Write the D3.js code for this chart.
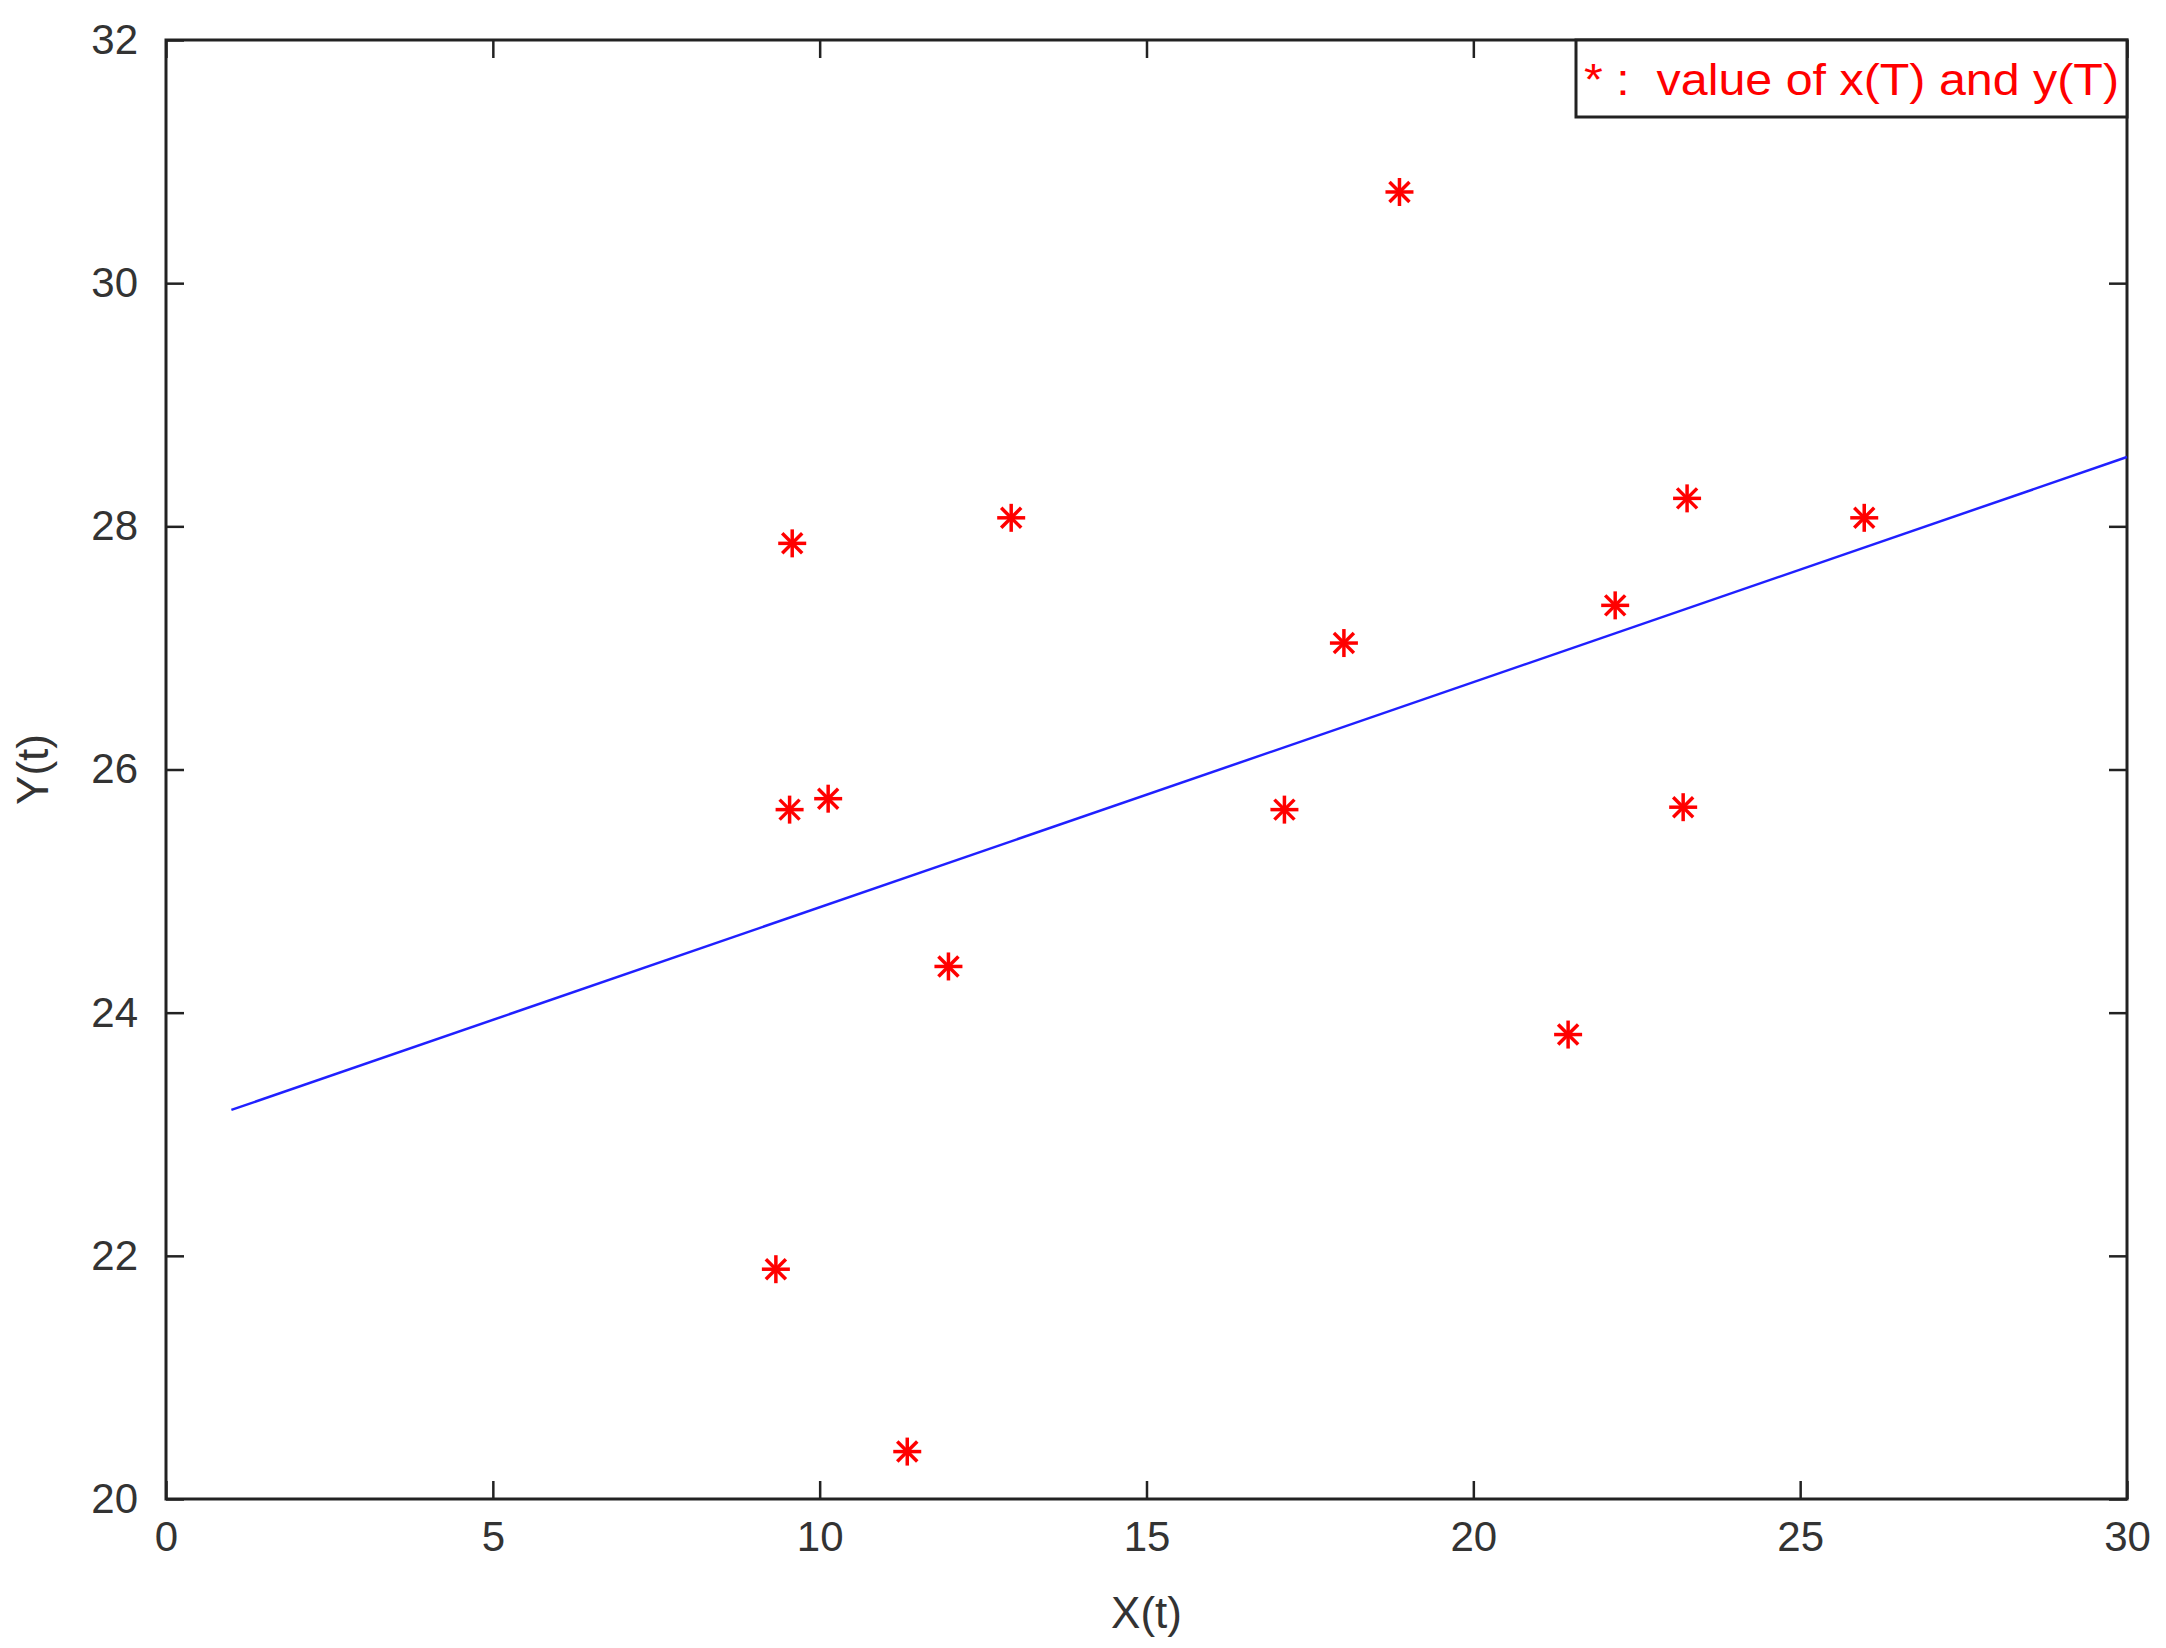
<!DOCTYPE html>
<html><head><meta charset="utf-8">
<script src="https://cdn.jsdelivr.net/npm/d3@7"></script>
<style>body{margin:0;background:#fff}</style>
</head><body><svg width="2166" height="1648"></svg>
<script>
var xs = [18.87, 9.58, 12.93, 23.27, 25.98, 22.17, 18.02, 9.54, 10.13, 17.11, 23.21, 11.97, 21.45, 9.33, 11.34];
var ys = [30.75, 27.86, 28.07, 28.23, 28.07, 27.35, 27.04, 25.67, 25.76, 25.67, 25.69, 24.38, 23.82, 21.89, 20.39];
var lineX = [1, 30];
var lineY = [23.2, 28.57];
var xTicks = [0, 5, 10, 15, 20, 25, 30];
var yTicks = [20, 22, 24, 26, 28, 30, 32];

var L = 166, R = 2127, T = 40, B = 1499;
var svg = d3.select("svg");
var x = d3.scaleLinear().domain([0, 30]).range([L, R]);
var y = d3.scaleLinear().domain([20, 32]).range([B, T]);
var font = "Liberation Sans, Arial, sans-serif";

svg.append("rect").attr("x", L).attr("y", T).attr("width", R - L).attr("height", B - T)
  .attr("fill", "none").attr("stroke", "#222").attr("stroke-width", 3);

function tickAxis(axis, tr) {
  var g = svg.append("g").attr("transform", tr).call(axis);
  g.select(".domain").remove();
  g.selectAll("line").attr("stroke", "#222").attr("stroke-width", 2.5);
  g.selectAll("text").attr("font-family", font).attr("font-size", 42).attr("fill", "#333");
  return g;
}
tickAxis(d3.axisBottom(x).tickValues(xTicks).tickSize(-18).tickPadding(22), "translate(0," + B + ")");
tickAxis(d3.axisTop(x).tickValues(xTicks).tickSize(-18).tickFormat(""), "translate(0," + T + ")");
tickAxis(d3.axisLeft(y).tickValues(yTicks).tickSize(-18).tickPadding(28), "translate(" + L + ",0)");
tickAxis(d3.axisRight(y).tickValues(yTicks).tickSize(-18).tickFormat(""), "translate(" + R + ",0)");

svg.append("text").attr("x", (L + R) / 2).attr("y", 1628).attr("text-anchor", "middle")
  .attr("font-family", font).attr("font-size", 44).attr("fill", "#333").text("X(t)");
svg.append("text").attr("transform", "translate(48," + (T + B) / 2 + ") rotate(-90)")
  .attr("text-anchor", "middle").attr("font-family", font).attr("font-size", 44).attr("fill", "#333").text("Y(t)");

svg.append("path").datum(d3.zip(lineX, lineY))
  .attr("d", d3.line().x(function(d){return x(d[0]);}).y(function(d){return y(d[1]);}))
  .attr("stroke", "#2020ff").attr("stroke-width", 2.5).attr("fill", "none");

var s = 14, s2 = 10;
var pts = svg.selectAll("g.pt").data(d3.zip(xs, ys)).enter().append("g")
  .attr("transform", function(d){return "translate(" + x(d[0]) + "," + y(d[1]) + ")";})
  .attr("stroke", "#ff0000").attr("stroke-width", 3.5);
pts.append("line").attr("x1", -s).attr("x2", s);
pts.append("line").attr("y1", -s).attr("y2", s);
pts.append("line").attr("x1", -s2).attr("y1", -s2).attr("x2", s2).attr("y2", s2);
pts.append("line").attr("x1", -s2).attr("y1", s2).attr("x2", s2).attr("y2", -s2);

svg.append("rect").attr("x", 1576).attr("y", T).attr("width", R - 1576).attr("height", 77)
  .attr("fill", "#fff").attr("stroke", "#222").attr("stroke-width", 3);
svg.append("text").attr("x", 1584).attr("y", 95).attr("font-family", font).attr("font-size", 44)
  .attr("fill", "#ff0000").attr("xml:space", "preserve").attr("textLength", 535)
  .attr("lengthAdjust", "spacingAndGlyphs")
  .text("* :  value of x(T) and y(T)");
</script></body></html>
